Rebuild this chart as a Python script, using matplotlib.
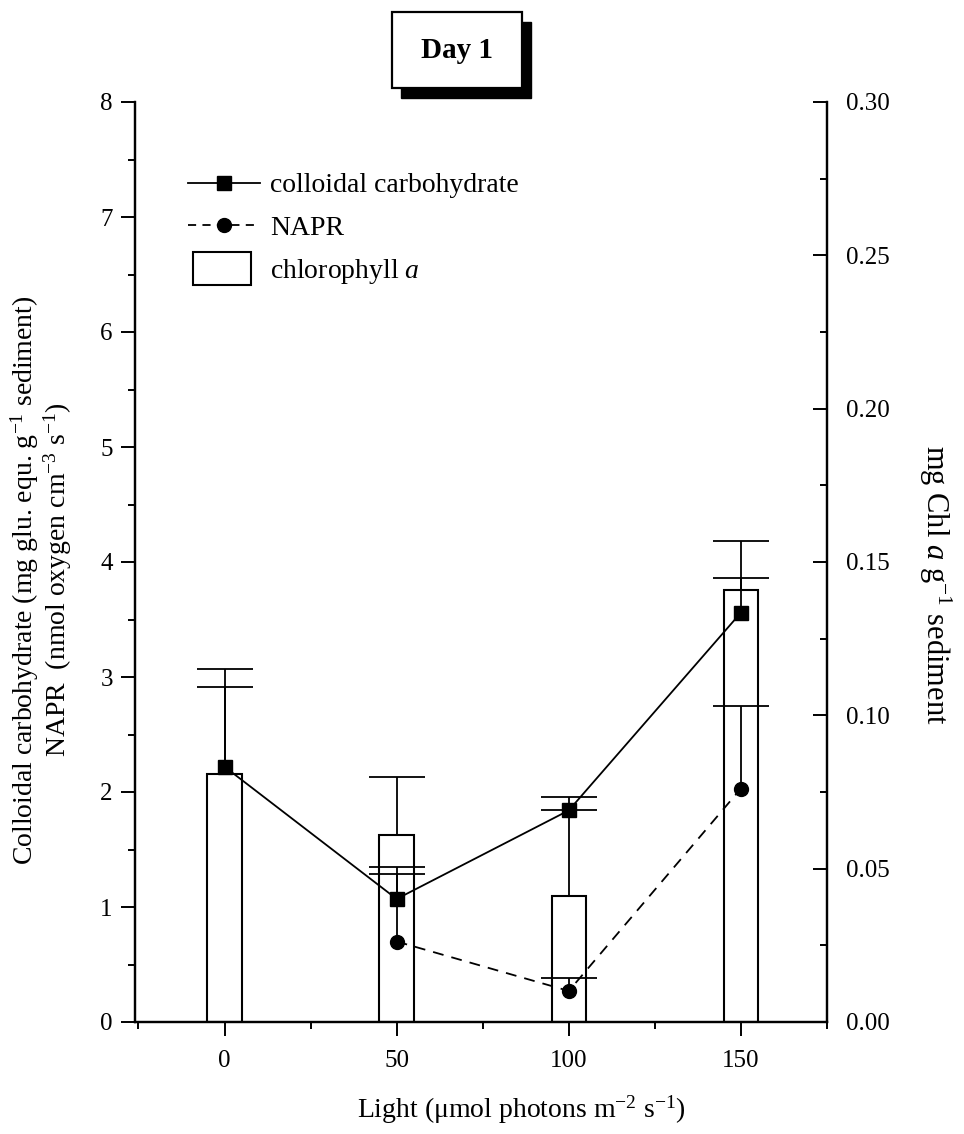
import matplotlib
matplotlib.use("Agg")
import numpy as np
import matplotlib.pyplot as plt
from matplotlib.patches import Rectangle, Patch
from matplotlib.lines import Line2D
from matplotlib.legend_handler import HandlerPatch
from matplotlib.ticker import MultipleLocator, FormatStrFormatter

plt.rcParams["font.family"] = ["Liberation Serif", "DejaVu Serif"]
plt.rcParams["mathtext.fontset"] = "custom"
plt.rcParams["mathtext.rm"] = "Liberation Serif"
plt.rcParams["mathtext.it"] = "Liberation Serif:italic"
plt.rcParams["axes.unicode_minus"] = False

# Light levels (umol photons m-2 s-1)
light = [0, 50, 100, 150]

# Chlorophyll a (mg Chl a g-1 sediment) with upper SD
chl = [0.081, 0.061, 0.041, 0.141]
chl_sd = [0.034, 0.019, 0.028, 0.016]

# Colloidal carbohydrate (mg glu. equ. g-1 sediment) with upper SD
carb = [2.22, 1.07, 1.84, 3.56]
carb_sd = [0.69, 0.28, 0.12, 0.30]

# NAPR (nmol oxygen cm-3 s-1), not measured in darkness
napr_light = [50, 100, 150]
napr = [0.70, 0.27, 2.03]
napr_sd = [0.59, 0.11, 0.72]

W, H = 964, 1134
fig = plt.figure(figsize=(W / 100, H / 100), dpi=100)


def fx(px):
    return px / W


def fy(py):
    return 1 - py / H


def upper_only(caplines, values):
    """Hide the cap drawn at the mean so only the upper whisker shows."""
    for cap in caplines:
        if np.allclose(cap.get_ydata(), values):
            cap.set_visible(False)


L, R, T, B = 135, 827, 102, 1022
ax = fig.add_axes([fx(L), fy(B), fx(R - L), (B - T) / H])
ax2 = ax.twinx()

lw = 1.3
FS = 20
TFS = 18
CAP = 20

# chlorophyll bars on the right-hand scale
bars = ax2.bar(light, chl, width=10, facecolor="white", edgecolor="black", linewidth=1.5,
               yerr=[[0] * len(chl), chl_sd],
               error_kw=dict(ecolor="black", elinewidth=lw, capsize=CAP, capthick=lw),
               zorder=1)
upper_only(bars.errorbar.lines[1], chl)
ax2.set_ylim(0, 0.30)

# lines on the left-hand scale, drawn above the bars
ax.set_zorder(ax2.get_zorder() + 1)
ax.patch.set_visible(False)

eb1 = ax.errorbar(light, carb, yerr=[[0] * len(carb), carb_sd], color="black", lw=lw,
                  marker="s", ms=9.5, elinewidth=lw, capsize=CAP, capthick=lw, zorder=3)
upper_only(eb1.lines[1], carb)
eb2 = ax.errorbar(napr_light, napr, yerr=[[0] * len(napr), napr_sd], color="black", lw=lw,
                  ls=(0, (6, 4.5)), marker="o", ms=10, elinewidth=lw, capsize=CAP,
                  capthick=lw, zorder=3)
upper_only(eb2.lines[1], napr)

ax.set_xlim(-26, 175)
ax.set_ylim(0, 8)

ax.xaxis.set_major_locator(MultipleLocator(50))
ax.xaxis.set_minor_locator(MultipleLocator(25))
ax.yaxis.set_major_locator(MultipleLocator(1))
ax.yaxis.set_minor_locator(MultipleLocator(0.5))
ax2.yaxis.set_major_locator(MultipleLocator(0.05))
ax2.yaxis.set_minor_locator(MultipleLocator(0.025))
ax2.yaxis.set_major_formatter(FormatStrFormatter("%.2f"))

for a in (ax, ax2):
    for s in a.spines.values():
        s.set_linewidth(1.6)
    a.spines["top"].set_visible(False)

ax.tick_params(axis="both", which="major", direction="out", length=10, width=1.4,
               labelsize=TFS, pad=6)
ax.tick_params(axis="x", which="major", pad=10)
ax.tick_params(axis="both", which="minor", direction="out", length=5, width=1.4)
ax2.tick_params(axis="y", which="major", direction="in", length=10, width=1.4,
                labelsize=TFS, pad=14)
ax2.tick_params(axis="y", which="minor", direction="in", length=5, width=1.4)

# axis titles
ax.set_xlabel("Light (μmol photons m$^{-2}$ s$^{-1}$)", fontsize=FS)
ax.xaxis.set_label_coords((521 - L) / (R - L), (B - 1094) / (B - T))
fig.text(fx(41), fy(580),
         "Colloidal carbohydrate (mg glu. equ. g$^{-1}$ sediment)\n"
         "NAPR  (nmol oxygen cm$^{-3}$ s$^{-1}$)",
         rotation=90, ha="center", va="center", multialignment="center",
         fontsize=FS, linespacing=1.0)
fig.text(fx(935), fy(585), r"mg Chl $a$ g$^{-1}$ sediment", rotation=270,
         ha="center", va="center", fontsize=22)

# legend
def rect_handle(legend, orig_handle, xdescent, ydescent, width, height, fontsize):
    w = 0.8 * width
    h = 1.2 * fontsize
    return Rectangle((-xdescent + 0.07 * width, -ydescent + height / 2 - h / 2), w, h)


handles = [
    Line2D([], [], color="black", lw=lw, marker="s", ms=9.5),
    Line2D([], [], color="black", lw=lw, ls=(0, (4.5, 3.5)), marker="o", ms=10),
    Patch(facecolor="white", edgecolor="black", linewidth=1.5),
]
labels = ["colloidal carbohydrate", "NAPR", r"chlorophyll $a$"]
ax.legend(handles, labels, loc="upper left",
          bbox_to_anchor=((188 - L) / (R - L), (B - 173) / (B - T)),
          frameon=False, fontsize=FS, handlelength=2.6, handletextpad=0.35,
          labelspacing=0.6, borderpad=0, borderaxespad=0,
          handler_map={Patch: HandlerPatch(patch_func=rect_handle)})

# title box with drop shadow
bx0, by0, bx1, by1 = 392, 12, 522, 88
fig.patches.append(Rectangle((fx(bx0 + 9), fy(by1 + 10)), fx(bx1 - bx0), (by1 - by0) / H,
                             transform=fig.transFigure, facecolor="black",
                             edgecolor="black", zorder=1))
fig.patches.append(Rectangle((fx(bx0), fy(by1)), fx(bx1 - bx0), (by1 - by0) / H,
                             transform=fig.transFigure, facecolor="white",
                             edgecolor="black", linewidth=1.6, zorder=2))
fig.text(fx((bx0 + bx1) / 2), fy((by0 + by1) / 2), "Day 1", ha="center", va="center",
         fontsize=21, fontweight="bold", zorder=3)

fig.savefig("out.png", dpi=100, facecolor="white")
